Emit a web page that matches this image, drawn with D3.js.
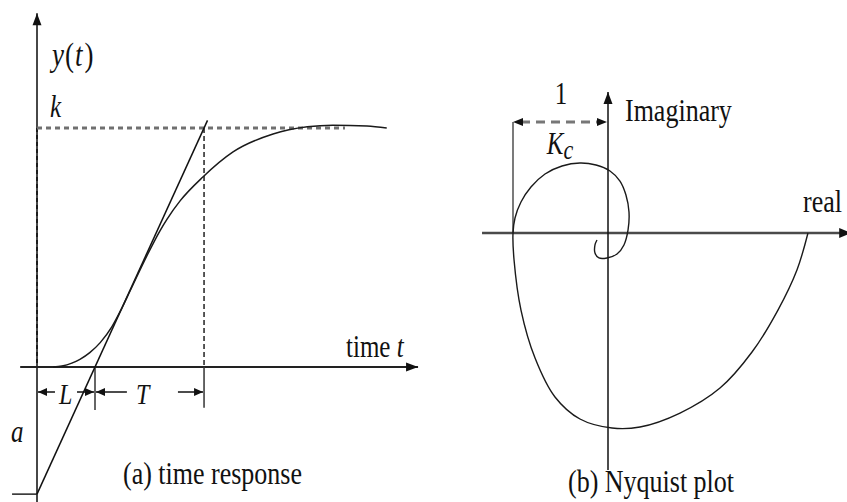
<!DOCTYPE html>
<html>
<head>
<meta charset="utf-8">
<script src="https://cdn.jsdelivr.net/npm/d3@7"></script>
<style>
  html, body { margin: 0; padding: 0; background: #fff; }
  svg { display: block; }
  text { font-family: "Liberation Serif", "Times New Roman", serif; fill: #111; }
</style>
</head>
<body>
<svg id="fig" width="847" height="502"></svg>
<script>
// (a) step response of the process: time (in units of L) and normalised output y/k
const stepTime = [0.28, 0.43, 0.60, 0.74, 0.91, 1.09, 1.29, 1.45, 1.60, 1.90, 2.12, 2.24, 2.47, 2.86, 3.38, 4.07, 4.66, 5.10, 5.69, 6.03];
const stepValue = [0, 0.004, 0.016, 0.032, 0.060, 0.102, 0.168, 0.240, 0.316, 0.468, 0.570, 0.618, 0.696, 0.795, 0.900, 0.975, 1.005, 1.012, 1.008, 1.000];

// reaction-curve parameters: dead time L, time constant T, final value k, intercept a
const deadTime = 1.0;
const timeConst = 1.88;
const finalValue = 1.0;
const intercept = finalValue * deadTime / timeConst;

// (b) Nyquist locus, real and imaginary parts in units of 1/Kc
const nyqReal = [2.105, 1.989, 1.789, 1.516, 1.179, 0.758, 0.337, 0.042, -0.295, -0.558, -0.768, -0.916, -0.989, -1.000,
                 -0.979, -0.916, -0.811, -0.663, -0.484, -0.295, -0.126, 0.021, 0.126, 0.189, 0.221, 0.211, 0.168, 0.095, -0.011, -0.095, -0.137, -0.137, -0.116];
const nyqImag = [0, -0.389, -0.811, -1.253, -1.632, -1.895, -2.042, -2.053, -1.958, -1.726, -1.316, -0.811, -0.284, 0,
                 0.158, 0.326, 0.484, 0.621, 0.705, 0.737, 0.716, 0.653, 0.547, 0.400, 0.221, 0.032, -0.126, -0.221, -0.263, -0.263, -0.211, -0.126, -0.074];
const criticalPoint = -1.0;   // -1/Kc on the real axis

// text labels
const labelY = ["y", "(", "t", ")"];
const labelK = "k";
const labelTime = ["time ", "t"];
const labelL = "L";
const labelT = "T";
const labelA = "a";
const captionA = "(a) time response";
const labelImag = "Imaginary";
const labelReal = "real";
const captionB = "(b) Nyquist plot";
const fracNum = "1";
const fracDen = ["K", "c"];

const svg = d3.select("#fig");
const STRETCH = 1.25;   // tall, narrow serif lettering

// ---------- scales ----------
const xT = d3.scaleLinear().domain([0, 1]).range([37, 95]);
const yT = d3.scaleLinear().domain([0, 1]).range([367, 128]);
const xR = d3.scaleLinear().domain([0, 1]).range([608, 703]);
const yI = d3.scaleLinear().domain([0, 1]).range([233, 138]);

// ---------- helpers ----------
function seg(g, x1, y1, x2, y2, stroke, width, dash) {
  const l = g.append("line").attr("x1", x1).attr("y1", y1).attr("x2", x2).attr("y2", y2)
    .attr("stroke", stroke).attr("stroke-width", width);
  if (dash) l.attr("stroke-dasharray", dash);
  return l;
}
// filled arrowhead with its tip at (x, y), pointing along angle (radians)
function head(g, x, y, ang, len, half) {
  const c = Math.cos(ang), s = Math.sin(ang);
  const bx = x - c * len, by = y - s * len;
  const p = [[x, y], [bx - s * half, by + c * half], [bx + s * half, by - c * half]];
  g.append("path").attr("d", "M" + p.map(q => q.join(",")).join("L") + "Z").attr("fill", "#111");
}
function label(g, x, y, parts, size, anchor) {
  const t = g.append("text").attr("transform", `translate(${x},${y}) scale(1,${STRETCH})`)
    .attr("font-size", size).attr("text-anchor", anchor || "start");
  parts.forEach(p => {
    const s = t.append("tspan").text(p.text);
    if (p.italic) s.attr("font-style", "italic");
    if (p.dy) s.attr("dy", p.dy);
    if (p.size) s.attr("font-size", p.size);
    if (p.dx) s.attr("dx", p.dx);
  });
  return t;
}

// ================= (a) time response =================
const gA = svg.append("g");
const x0 = xT(0), yZero = yT(0), yK = yT(finalValue);
const tEnd = deadTime + timeConst;

// vertical axis
seg(gA, x0, yT(1.48), x0, 502, "#333", 1.8);
seg(gA, x0, yK, x0, yZero, "#000", 1.2, "4,3");
head(gA, x0, yT(1.48), -Math.PI / 2, 12, 4.5);

// time axis
seg(gA, xT(-0.29), yZero, xT(6.57), yZero, "#222", 1.8);
head(gA, xT(6.57), yZero, 0, 12, 4.5);

// final value k (dashed)
seg(gA, x0, yK, xT(5.31), yK, "#707070", 3, "5,4");

// L + T marker
seg(gA, xT(tEnd), yK, xT(tEnd), yZero, "#222", 1.5, "5,3");
seg(gA, xT(tEnd), yZero, xT(tEnd), yT(-0.17), "#333", 1.5);
seg(gA, xT(deadTime), yZero, xT(deadTime), yT(-0.18), "#333", 1.5);

// intercept -a tick
seg(gA, xT(-0.43), yT(-intercept), x0, yT(-intercept), "#222", 1.5);

// tangent through the inflection point
const slope = intercept / deadTime;
const tTop = deadTime + finalValue / slope;
seg(gA, xT(0), yT(-intercept), xT(tTop + 0.06), yT(-intercept + slope * (tTop + 0.06)), "#111", 1.5);

// step response curve
const stepLine = d3.line().x(d => xT(d[0])).y(d => yT(d[1])).curve(d3.curveMonotoneX);
gA.append("path").datum(d3.zip(stepTime, stepValue)).attr("d", stepLine)
  .attr("fill", "none").attr("stroke", "#1a1a1a").attr("stroke-width", 1.5);

// dimension arrows for L and T
const yDim = 392;
seg(gA, x0 + 1, yDim, xT(0.31), yDim, "#111", 1.5);  head(gA, x0 + 1, yDim, Math.PI, 9, 4);
seg(gA, xT(0.69), yDim, xT(deadTime) - 1, yDim, "#111", 1.5);  head(gA, xT(deadTime) - 1, yDim, 0, 9, 4);
seg(gA, xT(deadTime) + 1, yDim, xT(1.55), yDim, "#111", 1.5);  head(gA, xT(deadTime) + 1, yDim, Math.PI, 9, 4);
seg(gA, xT(2.43), yDim, xT(tEnd) - 1, yDim, "#111", 1.5);  head(gA, xT(tEnd) - 1, yDim, 0, 9, 4);

label(gA, 59, 404, [{ text: labelL, italic: true }], 24);
label(gA, 136, 404, [{ text: labelT, italic: true }], 24);
label(gA, 11, 442, [{ text: labelA, italic: true }], 25);
label(gA, 50, 117, [{ text: labelK, italic: true }], 25);
label(gA, 52, 66, [{ text: labelY[0], italic: true }, { text: labelY[1], dx: 1 }, { text: labelY[2], italic: true, dx: 1 }, { text: labelY[3], dx: 2 }], 27);
label(gA, 346, 357, [{ text: labelTime[0] }, { text: labelTime[1], italic: true }], 25);
label(gA, 123, 484, [{ text: captionA }], 26);

// ================= (b) Nyquist plot =================
const gB = svg.append("g");
const xO = xR(0), yO = yI(0);

// real axis
seg(gB, xR(-1.326), yO, xR(2.56), yO, "#4a4a4a", 2.6);
head(gB, xR(2.56), yO, 0, 12, 5);
// imaginary axis
seg(gB, xO, yI(1.484), xO, yI(-2.495), "#111", 1.5);
head(gB, xO, yI(1.484), -Math.PI / 2, 12, 4.5);

// 1/Kc distance marker
const yFrac = yI(1.168);
seg(gB, xR(criticalPoint), yFrac, xR(criticalPoint), yO, "#333", 1.3);
seg(gB, xR(criticalPoint) + 8, yFrac, xO - 8, yFrac, "#777", 3, "9,6");
head(gB, xR(criticalPoint), yFrac, Math.PI, 10, 4);
head(gB, xO - 1, yFrac, 0, 10, 4);

// Nyquist locus
const nyqLine = d3.line().x(d => xR(d[0])).y(d => yI(d[1])).curve(d3.curveCatmullRom.alpha(0.5));
gB.append("path").datum(d3.zip(nyqReal, nyqImag)).attr("d", nyqLine)
  .attr("fill", "none").attr("stroke", "#1a1a1a").attr("stroke-width", 1.4);

label(gB, 561, 104, [{ text: fracNum }], 25, "middle");
label(gB, 560, 154, [{ text: fracDen[0], italic: true }, { text: fracDen[1], italic: true, dy: 4, size: 22 }], 25, "middle");
label(gB, 625, 121, [{ text: labelImag }], 26);
label(gB, 803, 212, [{ text: labelReal }], 26);
label(gB, 568, 492, [{ text: captionB }], 26);
</script>
</body>
</html>
